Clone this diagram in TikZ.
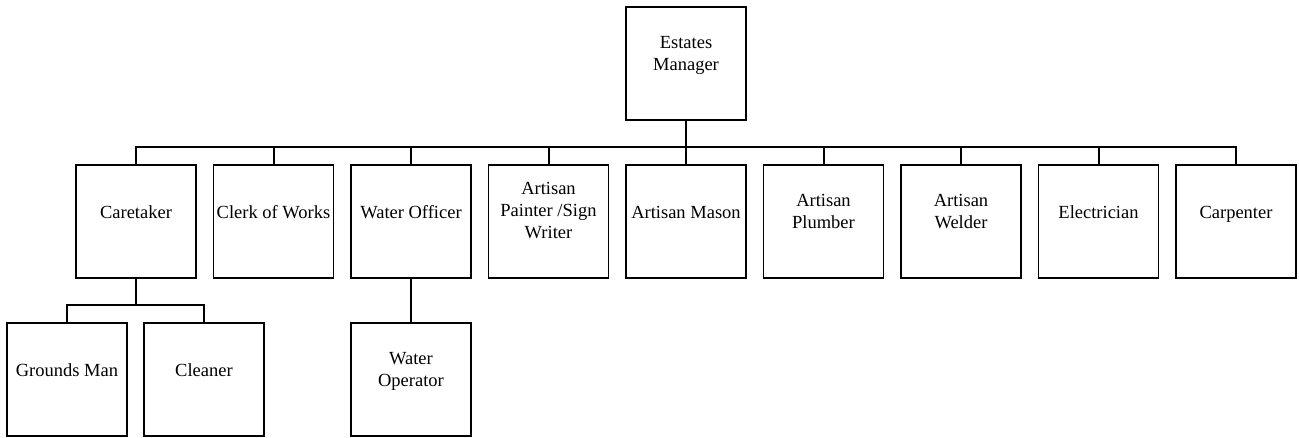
\documentclass[tikz,border=0pt]{standalone}
\usepackage{fontspec}
\setmainfont{Liberation Serif}
\begin{document}
\begin{tikzpicture}[x=1pt,y=-1pt,
  unit/.style={draw=black, line width=1.4pt, minimum width=120pt, minimum height=113pt, inner sep=0pt},
  captext/.style={font=\fontsize{18.5}{22}\selectfont, align=center, text=black, text depth=5pt},
  oneline/.style={captext, yshift=7pt},
  twoline/.style={captext, yshift=8pt},
  threeline/.style={captext, yshift=9pt},
  link/.style={draw=black, line width=2pt}]
\useasboundingbox (0,0) rectangle (1299,438);

% head of the department
\node[unit, label={[twoline]center:Estates\\Manager}] (em) at (686,63.5) {};

% first level
\node[unit, label={[oneline]center:Caretaker}]                (c1) at (136,221.5) {};
\node[unit, label={[oneline]center:Clerk of Works}]           (c2) at (273.5,221.5) {};
\node[unit, label={[oneline]center:Water Officer}]            (c3) at (411,221.5) {};
\node[unit, label={[threeline]center:Artisan\\Painter /Sign\\Writer}] (c4) at (548.5,221.5) {};
\node[unit, label={[oneline]center:Artisan Mason}]            (c5) at (686,221.5) {};
\node[unit, label={[twoline]center:Artisan\\Plumber}]         (c6) at (823.5,221.5) {};
\node[unit, label={[twoline]center:Artisan\\Welder}]          (c7) at (961,221.5) {};
\node[unit, label={[oneline]center:Electrician}]              (c8) at (1098.5,221.5) {};
\node[unit, label={[oneline]center:Carpenter}]                (c9) at (1236,221.5) {};

% second level
\node[unit, label={[oneline]center:Grounds Man}]       (g1) at (67,379.5) {};
\node[unit, label={[oneline]center:Cleaner}]           (g2) at (204,379.5) {};
\node[unit, label={[twoline]center:Water\\Operator}]   (w1) at (411,379.5) {};

% connectors
\foreach \c in {c1,c2,c3,c4,c5,c6,c7,c8,c9}
  \draw[link] (em.south) -- ++(0,26) -| (\c.north);
\foreach \c in {g1,g2}
  \draw[link] (c1.south) -- ++(0,26) -| (\c.north);
\draw[link] (c3.south) -- (w1.north);
\end{tikzpicture}
\end{document}
